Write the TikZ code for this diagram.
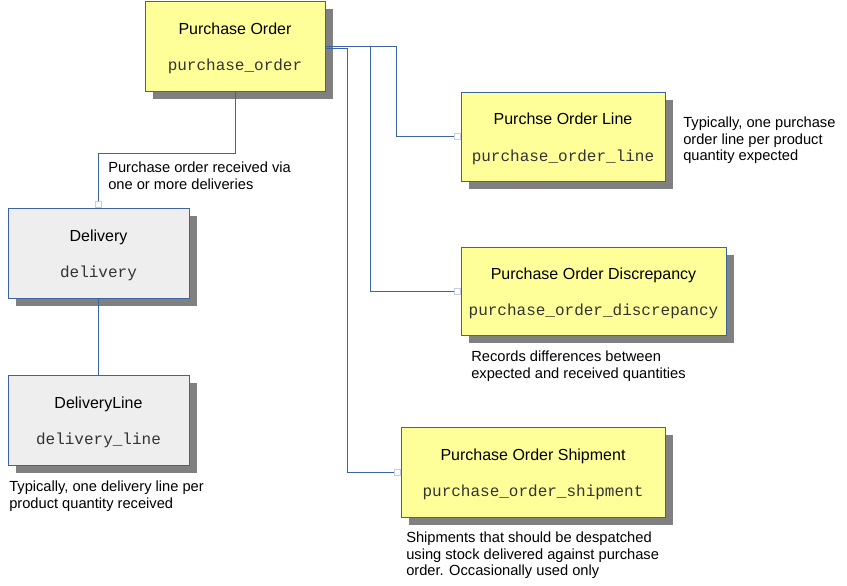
\documentclass[tikz,border=0pt]{standalone}
\usepackage{fontspec}
\setmainfont{Liberation Sans}
\newfontfamily\codefont{Liberation Mono}
\usetikzlibrary{shadows,positioning}
\definecolor{entblue}{HTML}{3A64A4}
\definecolor{entyellow}{HTML}{FFFF99}
\definecolor{entgrey}{HTML}{EEEEEE}
\definecolor{entshadow}{HTML}{808080}
\definecolor{sqblue}{HTML}{C4CEE4}
\definecolor{codegrey}{HTML}{333333}
\tikzset{
  ent/.style = {draw=entblue, line width=0.75pt, rectangle, align=center, inner sep=0pt,
                font=\fontsize{12}{14}\selectfont,
                drop shadow={shadow xshift=6pt, shadow yshift=-6pt, fill=entshadow, opacity=1}},
  yent/.style = {ent, fill=entyellow},
  gent/.style = {ent, fill=entgrey},
  conn/.style = {draw=entblue, line width=0.75pt},
  endsq/.style = {draw=sqblue, fill=white, line width=0.6pt, minimum size=4.5pt, inner sep=0pt},
  note/.style = {anchor=north west, align=left, inner sep=0pt, font=\fontsize{11}{12.3}\selectfont}
}
\newcommand{\enttext}[2]{\rule{0pt}{12pt}#1\\[13.5pt]{\codefont\color{codegrey}#2}}
\begin{document}
\begin{tikzpicture}[x=0.75pt, y=-0.75pt]
  \useasboundingbox (0,0) rectangle (847,586);
  % entities
  \node[yent, minimum width=135pt, minimum height=67.5pt] (po) at (235,46) {\enttext{Purchase Order}{purchase\_order}};
  \node[yent, minimum width=153pt, minimum height=66.75pt] (pol) at (563,136.5) {\enttext{Purchse Order Line}{purchase\_order\_line}};
  \node[yent, minimum width=198.75pt, minimum height=66pt] (pod) at (593.5,291) {\enttext{Purchase Order Discrepancy}{purchase\_order\_discrepancy}};
  \node[yent, minimum width=198pt, minimum height=67.5pt] (pos) at (533,472) {\enttext{Purchase Order Shipment}{purchase\_order\_shipment}};
  \node[gent, minimum width=135.75pt, minimum height=67.5pt] (del) at (98.5,253) {\enttext{Delivery}{delivery}};
  \node[gent, minimum width=135.75pt, minimum height=67.5pt] (dl) at (98.5,420) {\enttext{DeliveryLine}{delivery\_line}};
  % connectors
  \draw[conn] (po.east) -| ([xshift=-48pt]pol.west) -- (pol.west) node[endsq, anchor=east] {};
  \draw[conn] (po.east) -| ([xshift=-67.5pt]pod.west) -- (pod.west) node[endsq, anchor=east] {};
  \draw[conn] ([yshift=-1.5pt]po.east) -| ([xshift=-39.75pt]pos.west) -- (pos.west) node[endsq, anchor=east] {};
  \draw[conn] (po.south) -- ++(0,62) -| (del.north) node[endsq, anchor=south] {};
  \draw[conn] (del.south) -- (dl.north);
  % notes
  \node[note] (n1) at (108,162) {Purchase order received via\\one or more deliveries};
  \node[note] (n2) at (683,117) {Typically, one purchase\\order line per product\\quantity expected};
  \node[note] (n3) at (471,351) {Records differences between\\expected and received quantities};
  \node[note] (n4) at (9,481) {Typically, one delivery line per\\product quantity received};
  \node[note] (n5) at (406,532) {Shipments that should be despatched\\using stock delivered against purchase\\order. Occasionally used only};
\end{tikzpicture}
\end{document}
